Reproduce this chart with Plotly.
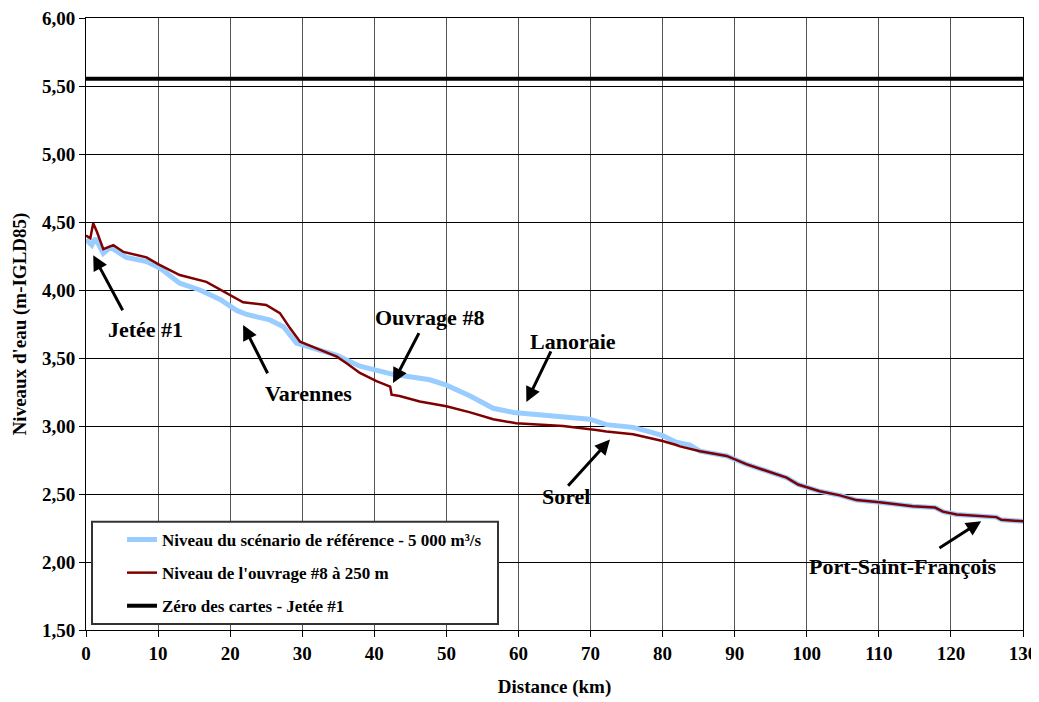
import plotly.graph_objects as go

# ---- data ----
ref_km = [0, 0.8, 1.3, 2.4, 3.3, 3.8, 5.6, 8.4, 10.3, 13, 15.8, 18.6, 20.9, 22.3, 25.5,
          27.4, 29.2, 31.5, 34.8, 38, 40.8, 42.6, 47.7, 50, 53.3, 56.5, 59.3, 63.9,
          69.9, 72.2, 75.9, 78, 80, 81.9, 83.8, 85.2, 88.9, 91.6, 94.4, 97.2, 98.8,
          101.8, 104.6, 106.9, 110.1, 114.7, 117.8, 118.9, 120.8, 126.3, 127, 130]
ref_level = [4.37, 4.33, 4.38, 4.27, 4.31, 4.30, 4.24, 4.21, 4.16, 4.05, 4.00, 3.93, 3.85,
             3.82, 3.78, 3.73, 3.61, 3.57, 3.52, 3.44, 3.40, 3.38, 3.34, 3.30, 3.22,
             3.13, 3.10, 3.08, 3.05, 3.01, 2.99, 2.96, 2.93, 2.88, 2.86, 2.815, 2.78,
             2.72, 2.67, 2.62, 2.57, 2.52, 2.49, 2.455, 2.44, 2.41, 2.40, 2.37, 2.35,
             2.33, 2.31, 2.30]

ouv_km = [0, 0.6, 1.0, 1.5, 2.4, 3.8, 5.2, 7, 8.4, 10, 13, 16.7, 19.5, 21.8, 25, 26.9,
          28.3, 29.7, 32.5, 34.8, 36.2, 38, 40.3, 42.2, 42.4, 43.5, 46.3, 50, 53.3,
          56.5, 59.7, 66.2, 70.8, 72.2, 75.9, 80, 81.9, 82.4, 85.2, 88.9, 91.6, 94.4,
          97.2, 98.8, 101.8, 104.6, 106.9, 110.1, 114.7, 117.8, 118.9, 120.8, 126.3,
          127, 130]
ouv_level = [4.40, 4.38, 4.49, 4.43, 4.30, 4.33, 4.28, 4.26, 4.24, 4.19, 4.11, 4.06,
             3.975, 3.91, 3.89, 3.83, 3.72, 3.62, 3.56, 3.51, 3.46, 3.39, 3.33, 3.29,
             3.23, 3.22, 3.18, 3.145, 3.10, 3.05, 3.02, 3.00, 2.97, 2.96, 2.94, 2.89,
             2.86, 2.85, 2.815, 2.78, 2.72, 2.67, 2.62, 2.57, 2.52, 2.49, 2.455, 2.44,
             2.41, 2.40, 2.37, 2.35, 2.33, 2.31, 2.30]

zero_km = [0, 130]
zero_level = [5.553, 5.553]

series_names = ["Niveau du scénario de référence - 5 000 m³/s",
                "Niveau de l'ouvrage #8 à 250 m",
                "Zéro des cartes - Jetée #1"]

# labels: text, arrow head (km, level), arrow tail (km, level), text pos (km, level)
labels = ["Jetée #1", "Varennes", "Ouvrage #8", "Lanoraie", "Sorel", "Port-Saint-François"]
head_km = [1.0, 21.8, 42.6, 61.1, 72.7, 124.2]
head_lv = [4.256, 3.743, 3.316, 3.176, 2.90, 2.30]
tail_km = [5.2, 25.3, 46.3, 64.6, 66.7, 118.2]
tail_lv = [3.84, 3.377, 3.694, 3.56, 2.55, 2.096]
text_km = [8.2, 30.8, 47.7, 67.5, 66.6, 113.3]
text_lv = [3.71, 3.24, 3.80, 3.62, 2.48, 1.97]

FONT = "Liberation Serif, Times New Roman, serif"

fig = go.Figure()
fig.add_trace(go.Scatter(x=ref_km, y=ref_level, mode="lines", name=series_names[0],
                         line=dict(color="#99CCFF", width=5), legendgroup="a"))
fig.add_trace(go.Scatter(x=ouv_km, y=ouv_level, mode="lines", name=series_names[1],
                         line=dict(color="#800000", width=2.5), legendgroup="b"))
fig.add_trace(go.Scatter(x=zero_km, y=zero_level, mode="lines", name=series_names[2],
                         line=dict(color="#000000", width=4), legendgroup="c"))

for t, hx, hy, tx, ty, lx, ly in zip(labels, head_km, head_lv, tail_km, tail_lv, text_km, text_lv):
    fig.add_annotation(x=hx, y=hy, ax=tx, ay=ty, axref="x", ayref="y", xref="x", yref="y",
                       text="", showarrow=True, arrowhead=2, arrowsize=1, arrowwidth=3,
                       arrowcolor="#000000", standoff=0, startstandoff=0)
    fig.add_annotation(x=lx, y=ly, xref="x", yref="y", text=t, showarrow=False,
                       font=dict(family=FONT, size=22, color="#000000", weight="bold"))

# legend frame (drawn as a shape so the box can be wider than the entries)
fig.add_shape(type="rect", xref="paper", yref="paper", x0=0.0064, x1=0.4397,
              y0=0.0098, y1=0.177, line=dict(color="#333333", width=2),
              fillcolor="white", layer="above")

# the page body adds an 8 px offset, so the figure is 8 px smaller and margins shifted
fig.update_layout(
    width=1031, height=694,
    margin=dict(l=78, r=16, t=10, b=72),
    paper_bgcolor="white", plot_bgcolor="white",
    separators=", ",
    font=dict(family=FONT, size=19, color="#000000", weight="bold"),
    showlegend=True,
    hovermode=False,
    legend=dict(x=0.0384, y=0.1765, xanchor="left", yanchor="top",
                bgcolor="rgba(0,0,0,0)", borderwidth=0,
                font=dict(family=FONT, size=17, color="#000000", weight="bold"),
                tracegroupgap=8, traceorder="grouped"),
    xaxis=dict(range=[0, 130], dtick=10, tick0=0, showgrid=True, gridcolor="#555555",
               gridwidth=1, showline=True, linecolor="#000000", linewidth=1, mirror=True,
               ticks="outside", ticklen=6, tickcolor="#000000", zeroline=False,
               automargin=False, ticklabeloverflow="allow",
               title=dict(text="Distance (km)", font=dict(size=19), standoff=16)),
    yaxis=dict(range=[1.5, 6.0], dtick=0.5, tick0=1.5, tickformat=".2f", showgrid=True,
               gridcolor="#000000", gridwidth=1, showline=True, linecolor="#000000",
               linewidth=1, mirror=True, ticks="outside", ticklen=6, tickcolor="#000000",
               zeroline=False, automargin=False, ticklabeloverflow="allow",
               title=dict(text="Niveaux d'eau (m-IGLD85)", font=dict(size=19), standoff=10)),
)

fig.write_html("out.html")
